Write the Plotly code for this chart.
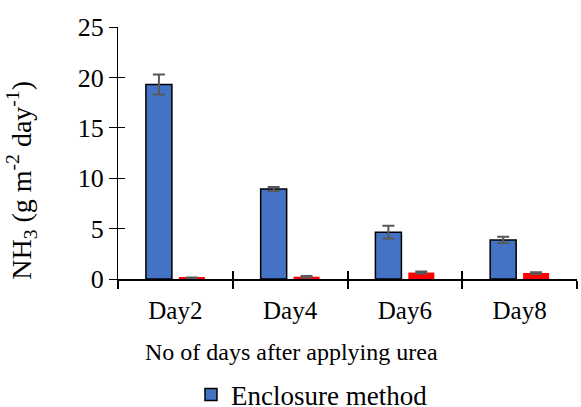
import plotly.graph_objects as go

days = ["Day2", "Day4", "Day6", "Day8"]
enclosure = [19.3, 8.93, 4.65, 3.88]
enclosure_err = [1.0, 0.2, 0.63, 0.3]
other = [0.1, 0.23, 0.64, 0.6]
other_err = [0.05, 0.08, 0.1, 0.07]
y_ticks = [0, 5, 10, 15, 20, 25]

FONT = "Liberation Serif"

fig = go.Figure()
fig.add_trace(go.Bar(
    x=days, y=enclosure, name="Enclosure method",
    marker=dict(color="#4472C4", line=dict(color="black", width=1.5)),
    error_y=dict(type="data", array=enclosure_err, color="#595959", thickness=2, width=6),
))
fig.add_trace(go.Bar(
    x=days, y=other, name="Other", showlegend=False,
    marker=dict(color="#FF0000", line=dict(width=0)),
    error_y=dict(type="data", array=other_err, color="#595959", thickness=2, width=6),
))

fig.update_layout(
    width=581, height=407,
    margin=dict(l=118, r=4, t=27, b=128, autoexpand=False),
    plot_bgcolor="white", paper_bgcolor="white",
    barmode="group", bargap=0.426, bargroupgap=0.21,
    font=dict(family=FONT, size=25, color="black"),
    showlegend=True,
    legend=dict(orientation="h", x=0.159, xanchor="left", y=-0.46, yanchor="middle",
                font=dict(size=27), itemwidth=30, tracegroupgap=0),
    xaxis=dict(
        type="category", showline=True, linecolor="black", linewidth=1.5,
        ticks="outside", ticklen=8, tickcolor="black", tickwidth=1.5,
        tickson="boundaries", tickfont=dict(size=25), ticklabelstandoff=8,
        showgrid=False,
    ),
    xaxis2=dict(
        type="category", overlaying="x", matches="x", showline=False,
        ticks="inside", ticklen=8, tickcolor="black", tickwidth=1.5,
        tickson="boundaries", showticklabels=False, showgrid=False,
    ),
    yaxis=dict(
        range=[0, 25], tickvals=y_ticks, showline=True, linecolor="black", linewidth=1,
        ticks="outside", ticklen=8, tickcolor="black", tickwidth=1,
        tickfont=dict(size=26), showgrid=False, zeroline=False,
    ),
    yaxis2=dict(
        range=[0, 25], tickvals=y_ticks, overlaying="y", showline=False,
        ticks="inside", ticklen=7, tickcolor="black", tickwidth=1,
        showticklabels=False, showgrid=False, zeroline=False,
    ),
    annotations=[
        dict(text="No of days after applying urea", xref="paper", yref="paper",
             x=0.379, y=-0.29, xanchor="center", yanchor="middle", showarrow=False,
             font=dict(size=24)),
        dict(text="NH<sub>3</sub> (g m<sup>-2</sup> day<sup>-1</sup>)", xref="paper", yref="paper",
             x=-0.209, y=0.39, xanchor="center", yanchor="middle", textangle=-90,
             showarrow=False, font=dict(size=28)),
    ],
)
# invisible trace to activate the overlay axes carrying the inner tick marks
fig.add_trace(go.Scatter(x=days, y=[None] * len(days), xaxis="x2", yaxis="y2",
                         showlegend=False, hoverinfo="skip"))

fig.write_html("out.html")
